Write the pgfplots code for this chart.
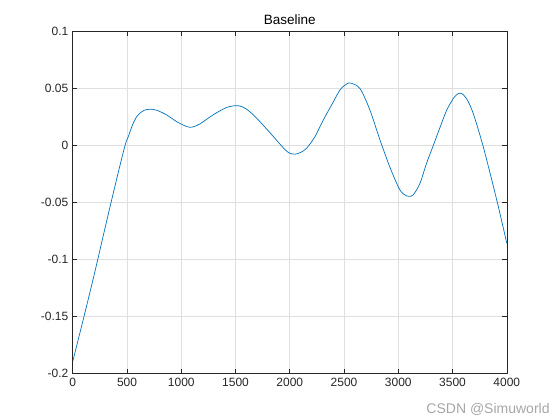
\documentclass[border=0pt]{standalone}
\usepackage{pgfplots}
\pgfplotsset{compat=1.18}
\usepackage{fontspec}
\setmainfont{Liberation Sans}
\definecolor{mlblue}{HTML}{0072BD}
\definecolor{mlaxis}{HTML}{262626}
\definecolor{mlgrid}{HTML}{DFDFDF}
\begin{document}
\begin{tikzpicture}
\useasboundingbox (-72.8pt,-46.2pt) rectangle (487.2pt,373.8pt);
\begin{axis}[
  at={(0pt,0pt)}, anchor=south west,
  scale only axis, width=434pt, height=342.3pt,
  xmin=0, xmax=4000, ymin=-0.2, ymax=0.1,
  xtick={0,500,1000,1500,2000,2500,3000,3500,4000},
  xticklabels={0,500,1000,1500,2000,2500,3000,3500,4000},
  ytick={-0.2,-0.15,-0.1,-0.05,0,0.05,0.1},
  yticklabels={-0.2,-0.15,-0.1,-0.05,0,0.05,0.1},
  tick align=inside, tick pos=both,
  major tick length=4.3pt,
  grid=major,
  major grid style={color=mlgrid, line width=0.6pt},
  axis line style={color=mlaxis, line width=0.6pt},
  every tick/.style={color=mlaxis, line width=0.6pt},
  tick label style={font=\fontsize{12}{14}\selectfont, color=mlaxis},
  xticklabel style={yshift=-1pt},
  yticklabel style={xshift=-1pt},
  title={Baseline},
  title style={font=\fontsize{13.5}{15}\selectfont, color=black, yshift=-3pt},
]
\addplot[color=mlblue, line width=0.7pt, smooth, tension=0.5] coordinates {
(0,-0.189) (100,-0.151) (200,-0.112) (300,-0.071) (400,-0.031)
(481,0.000) (512,0.008) (550,0.018) (589,0.0254) (618,0.0284) (660,0.031)
(711,0.0319) (773,0.031) (865,0.0269) (957,0.021) (1050,0.0167) (1100,0.0162)
(1172,0.019) (1294,0.027) (1420,0.0335) (1525,0.035) (1600,0.032) (1695,0.024)
(1848,0.008) (1950,-0.003) (2000,-0.0067) (2050,-0.0075) (2100,-0.006)
(2155,-0.0023) (2232,0.0079) (2309,0.0225) (2386,0.0357) (2463,0.0488)
(2524,0.054) (2560,0.0548) (2647,0.050) (2739,0.031) (2831,0.005) (2923,-0.019)
(3015,-0.0389) (3077,-0.0441) (3100,-0.0445) (3138,-0.0432) (3200,-0.033)
(3261,-0.0154) (3322,0.0) (3384,0.0158) (3446,0.031) (3520,0.043) (3575,0.046)
(3630,0.041) (3691,0.028) (3783,-0.001) (3907,-0.0476) (4000,-0.0856)
};
\end{axis}
\node[anchor=south east, font=\fontsize{14}{16}\selectfont, text=black!35, inner sep=0pt]
  at (477pt,-42pt) {CSDN @Simuworld};
\end{tikzpicture}
\end{document}
